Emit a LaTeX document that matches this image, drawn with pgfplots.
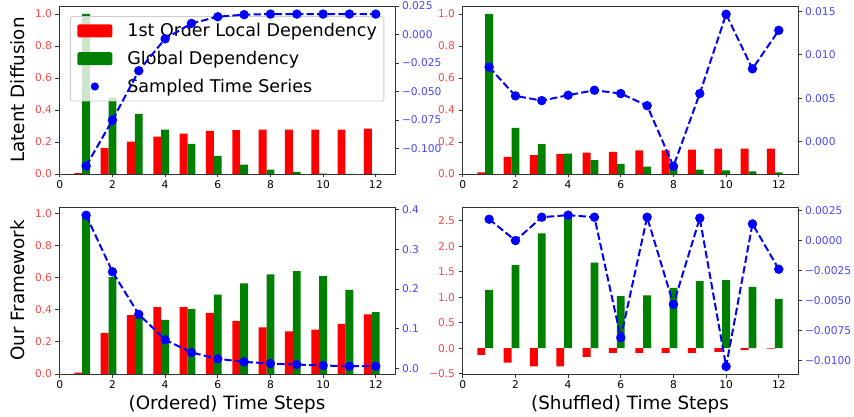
\documentclass[border=0pt]{standalone}
\usepackage{fontspec}
\setmainfont{DejaVu Sans}
\usepackage{pgfplots}
\usepackage{pgfplotstable}
\pgfplotsset{compat=1.18}
\definecolor{tickred}{RGB}{255,70,70}
\definecolor{tickblue}{RGB}{70,70,255}
\definecolor{mplgreen}{RGB}{0,128,0}

\pgfplotstableread{
x r g s
1 0.006 1.000 -0.1154
2 0.164 0.478 -0.0751
3 0.202 0.375 -0.0318
4 0.234 0.278 -0.0038
5 0.253 0.189 0.0097
6 0.269 0.114 0.0156
7 0.274 0.059 0.0174
8 0.278 0.027 0.0179
9 0.278 0.013 0.0179
10 0.278 0.003 0.0179
11 0.278 0.001 0.0179
12 0.284 0.000 0.0179
}\tabTL

\pgfplotstableread{
x r g s
1 0.010 1.000 0.00858
2 0.107 0.288 0.00527
3 0.118 0.187 0.00473
4 0.124 0.128 0.00535
5 0.133 0.086 0.00592
6 0.139 0.063 0.00554
7 0.147 0.046 0.00415
8 0.147 0.036 -0.00281
9 0.152 0.027 0.00554
10 0.158 0.023 0.01465
11 0.158 0.017 0.00838
12 0.158 0.010 0.01280
}\tabTR

\pgfplotstableread{
x r g s
1 0.008 0.988 0.3857
2 0.256 0.603 0.2434
3 0.366 0.362 0.1364
4 0.416 0.337 0.0724
5 0.416 0.405 0.0404
6 0.380 0.495 0.0244
7 0.331 0.565 0.0168
8 0.291 0.620 0.0126
9 0.266 0.640 0.0101
10 0.277 0.609 0.0076
11 0.312 0.524 0.0059
12 0.372 0.385 0.0059
}\tabBL

\pgfplotstableread{
x r g s
1 -0.131 1.147 0.00178
2 -0.282 1.632 0.00000
3 -0.354 2.254 0.00195
4 -0.354 2.608 0.00212
5 -0.170 1.678 0.00195
6 -0.092 1.022 -0.00810
7 -0.092 1.035 0.00195
8 -0.092 1.186 -0.00532
9 -0.092 1.317 0.00187
10 -0.072 1.337 -0.01050
11 -0.039 1.206 0.00139
12 -0.005 0.970 -0.00239
}\tabBR

\pgfplotsset{
  base/.style={scale only axis, width=336bp, height=168bp, xmin=-0.03, xmax=12.73,
    tick align=outside, major tick length=3.5bp,
    axis line style={draw=black!80, line width=0.8bp},
    every tick/.style={draw=black!80, line width=0.8bp},
    tick label style={font=\fontsize{10.7}{12}\selectfont},
    scaled y ticks=false},
  barax/.style={base, xtick={0,2,...,12}, xticklabels={0,2,4,6,8,10,12},
    xtick pos=left, ytick pos=left, yticklabel style={text=tickred},
    xlabel style={font=\fontsize{18.4}{20}\selectfont, at={(axis description cs:0.5,-0.18)}, anchor=center},
    ylabel style={font=\fontsize{18.4}{20}\selectfont, at={(axis description cs:-0.1235,0.5)}, anchor=center}},
  lineax/.style={base, hide x axis, ytick pos=right, yticklabel pos=right,
    yticklabel style={text=tickblue}},
  redbar/.style={ybar, bar width=0.3, bar shift=0pt, fill=red, draw=none},
  greenbar/.style={ybar, bar width=0.3, bar shift=0pt, fill=mplgreen, draw=none},
  series/.style={blue, line width=2bp, dash pattern=on 7.4bp off 3.2bp,
    mark=*, mark size=3.65bp, mark options={solid, fill=blue, draw=blue}},
}

\begin{document}
\begin{tikzpicture}
\useasboundingbox (0,0) rectangle (854bp,417bp);

% ---------- top left ----------
\begin{axis}[barax, at={(59bp,243bp)}, anchor=south west,
  ymin=0, ymax=1.05, ytick={0,0.2,0.4,0.6,0.8,1.0},
  yticklabels={0.0,0.2,0.4,0.6,0.8,1.0},
  ylabel={Latent Diffusion},
  legend cell align=left,
  legend style={at={(0.0326,0.940)}, anchor=north west,
    font=\fontsize{17.6}{20}\selectfont, fill=white, fill opacity=0.8, text opacity=1,
    draw=black!20, line width=0.8bp, rounded corners=2bp,
    inner xsep=7bp, inner ysep=7bp, row sep=13bp,
    nodes={inner sep=0pt},
    /tikz/every odd column/.append style={column sep=15bp}}]
\addplot[redbar, legend image code/.code={\fill[red, fill opacity=1] (0bp,-6.5bp) rectangle (35bp,6.5bp);}]
  table[x expr=\thisrow{x}-0.3, y=r]{\tabTL};
\addlegendentry{1st Order Local Dependency}
\addplot[greenbar, legend image code/.code={\fill[mplgreen, fill opacity=1] (0bp,-6.5bp) rectangle (35bp,6.5bp);}]
  table[x=x, y=g]{\tabTL};
\addlegendentry{Global Dependency}
\addlegendimage{legend image code/.code={\fill[blue, fill opacity=1] (17.5bp,0bp) circle (3.65bp);}}
\addlegendentry{Sampled Time Series}
\end{axis}
\begin{axis}[lineax, at={(59bp,243bp)}, anchor=south west,
  ymin=-0.1224, ymax=0.0250,
  ytick={-0.1,-0.075,-0.05,-0.025,0,0.025},
  yticklabels={−0.100,−0.075,−0.050,−0.025,0.000,0.025}]
\addplot[series] table[x=x, y=s]{\tabTL};
\end{axis}

% ---------- top right ----------
\begin{axis}[barax, at={(462bp,243bp)}, anchor=south west,
  ymin=0, ymax=1.05, ytick={0,0.2,0.4,0.6,0.8,1.0},
  yticklabels={0.0,0.2,0.4,0.6,0.8,1.0}]
\addplot[redbar] table[x expr=\thisrow{x}-0.3, y=r]{\tabTR};
\addplot[greenbar] table[x=x, y=g]{\tabTR};
\end{axis}
\begin{axis}[lineax, at={(462bp,243bp)}, anchor=south west,
  ymin=-0.0037, ymax=0.0156,
  ytick={0,0.005,0.01,0.015},
  yticklabels={0.000,0.005,0.010,0.015}]
\addplot[series] table[x=x, y=s]{\tabTR};
\end{axis}

% ---------- bottom left ----------
\begin{axis}[barax, at={(59bp,43bp)}, anchor=south west, height=167bp,
  ymin=0, ymax=1.04, ytick={0,0.2,0.4,0.6,0.8,1.0},
  yticklabels={0.0,0.2,0.4,0.6,0.8,1.0},
  ylabel={Our Framework}, xlabel={(Ordered) Time Steps}]
\addplot[redbar] table[x expr=\thisrow{x}-0.3, y=r]{\tabBL};
\addplot[greenbar] table[x=x, y=g]{\tabBL};
\end{axis}
\begin{axis}[lineax, at={(59bp,43bp)}, anchor=south west, height=167bp,
  ymin=-0.0137, ymax=0.4065,
  ytick={0,0.1,0.2,0.3,0.4},
  yticklabels={0.0,0.1,0.2,0.3,0.4}]
\addplot[series] table[x=x, y=s]{\tabBL};
\end{axis}

% ---------- bottom right ----------
\begin{axis}[barax, at={(462bp,43bp)}, anchor=south west, height=167bp,
  ymin=-0.505, ymax=2.77, ytick={-0.5,0,0.5,1,1.5,2,2.5},
  yticklabels={−0.5,0.0,0.5,1.0,1.5,2.0,2.5},
  xlabel={(Shuffled) Time Steps}]
\addplot[redbar] table[x expr=\thisrow{x}-0.3, y=r]{\tabBR};
\addplot[greenbar] table[x=x, y=g]{\tabBR};
\end{axis}
\begin{axis}[lineax, at={(462bp,43bp)}, anchor=south west, height=167bp,
  ymin=-0.01113, ymax=0.0028,
  ytick={-0.01,-0.0075,-0.005,-0.0025,0,0.0025},
  yticklabels={−0.0100,−0.0075,−0.0050,−0.0025,0.0000,0.0025}]
\addplot[series] table[x=x, y=s]{\tabBR};
\end{axis}
\end{tikzpicture}
\end{document}
